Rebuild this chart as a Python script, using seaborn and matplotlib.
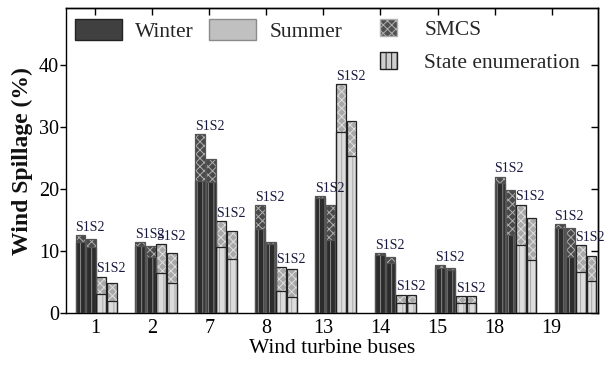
import numpy as np
import pandas as pd
import seaborn as sns
import matplotlib.pyplot as plt
from matplotlib.patches import Patch, Rectangle

# bus numbers on the x axis
buses = ['1', '2', '7', '8', '13', '14', '15', '18', '19']

# bar top (S1+S2) and lower part (S1) for each series, in %
winter_smcs_total = [12.6, 11.5, 28.9, 17.4, 18.9, 9.7, 7.8, 22.0, 14.4]
winter_smcs_s1 = [11.5, 10.8, 21.3, 13.5, 18.6, 9.3, 7.3, 21.0, 13.8]
winter_se_total = [11.9, 10.8, 24.8, 11.5, 17.4, 9.1, 7.3, 19.8, 13.8]
winter_se_s1 = [10.7, 9.1, 21.2, 11.2, 11.8, 8.1, 7.0, 12.6, 9.1]
summer_smcs_total = [5.9, 11.1, 14.9, 7.4, 36.9, 3.0, 2.7, 17.5, 11.0]
summer_smcs_s1 = [3.1, 6.5, 10.7, 3.6, 29.2, 1.6, 1.6, 11.0, 6.6]
summer_se_total = [4.8, 9.7, 13.3, 7.1, 31.0, 3.0, 2.7, 15.4, 9.2]
summer_se_s1 = [1.9, 4.8, 8.8, 2.6, 25.3, 1.6, 1.6, 8.5, 5.2]

series_order = ['Winter SMCS', 'Winter SE', 'Summer SMCS', 'Summer SE']
totals = [winter_smcs_total, winter_se_total, summer_smcs_total, summer_se_total]
lowers = [winter_smcs_s1, winter_se_s1, summer_smcs_s1, summer_se_s1]

rows = []
for name, tot, low in zip(series_order, totals, lowers):
    for b, t, l in zip(buses, tot, low):
        rows.append({'bus': b, 'series': name, 'total': t, 's1': l})
df = pd.DataFrame(rows)

sns.set_theme(style='white')
plt.rcParams['font.family'] = ['Liberation Serif', 'DejaVu Serif']
plt.rcParams['hatch.linewidth'] = 0.7

fig, ax = plt.subplots(figsize=(6.12, 3.65), dpi=100)
fig.subplots_adjust(left=0.108, right=0.977, bottom=0.142, top=0.978)

pal = ['#505050', '#505050', '#c4c4c4', '#c4c4c4']

# whole bars (upper part shows through as crosshatch)
sns.barplot(data=df, x='bus', y='total', hue='series', hue_order=series_order,
            order=buses, width=0.7, gap=0.08, palette=pal, saturation=1,
            errorbar=None, legend=False, ax=ax)
# lower part, vertical stripes
sns.barplot(data=df, x='bus', y='s1', hue='series', hue_order=series_order,
            order=buses, width=0.7, gap=0.08, palette=pal, saturation=1,
            errorbar=None, legend=False, ax=ax)

top_face = ['#4a4a4a', '#4a4a4a', '#a8a8a8', '#a8a8a8']
top_hatch = ['#b0b0b0', '#b0b0b0', '#e0e0e0', '#e0e0e0']
low_face = ['#2c2c2c', '#2c2c2c', '#dcdcdc', '#dcdcdc']
low_hatch = ['#8a8a8a', '#8a8a8a', '#a8a8a8', '#a8a8a8']
outline = ['#555555', '#555555', '#222222', '#222222']

for i, cont in enumerate(ax.containers[:4]):
    for p in cont:
        p.set_facecolor(top_face[i])
        p.set_edgecolor(top_hatch[i])
        p.set_hatch('xxxx')
        p.set_linewidth(0)
for i, cont in enumerate(ax.containers[4:8]):
    for p in cont:
        p.set_facecolor(low_face[i])
        p.set_edgecolor(low_hatch[i])
        p.set_hatch('|||')
        p.set_linewidth(0)
for i, cont in enumerate(list(ax.containers[:4]) + list(ax.containers[4:8])):
    for p in cont:
        ax.add_patch(Rectangle((p.get_x(), p.get_y()), p.get_width(), p.get_height(),
                               fill=False, edgecolor=outline[i % 4], linewidth=0.9, zorder=3))

# S1S2 tags over the first bar of each pair
for k in (0, 2):
    for p in ax.containers[k]:
        ax.text(p.get_x() - 0.01, p.get_height() + 0.2, 'S1S2', fontsize=10,
                ha='left', va='bottom', color='#1a1a40')

ax.set_xlim(-0.5, 8.37)
ax.set_ylim(0, 49.2)
tick_pos = np.arange(len(buses)) * 0.952 - 0.017
ax.set_xticks(tick_pos, buses)
ax.set_yticks([0, 10, 20, 30, 40])
ax.tick_params(axis='x', length=0, pad=4, labelsize=14.5, colors='black')
ax.tick_params(axis='y', direction='out', length=4, width=1, pad=1,
               labelsize=14.5, colors='black', left=True)

secx = ax.secondary_xaxis('top')
secx.set_xticks(tick_pos, [''] * len(buses))
secx.tick_params(direction='in', length=5, width=1, colors='black')
secy = ax.secondary_yaxis('right')
secy.set_yticks([0, 10, 20, 30, 40], [''] * 5)
secy.tick_params(direction='in', length=5, width=1, colors='black')
for s in list(ax.spines.values()) + [secx.spines['top'], secy.spines['right']]:
    s.set_color('black')
    s.set_linewidth(1)

ax.set_xlabel('Wind turbine buses', fontsize=15.5, labelpad=1, color='black')
ax.set_ylabel('Wind Spillage (%)', fontsize=17, fontweight='bold', labelpad=4, color='#111111')

h1 = [Patch(facecolor='#404040', edgecolor='#222222', label='Winter'),
      Patch(facecolor='#c0c0c0', edgecolor='#8a8a8a', label='Summer')]
leg1 = ax.legend(handles=h1, loc='upper left', bbox_to_anchor=(75 / 612, 1 - 19 / 365),
                 bbox_transform=fig.transFigure, ncol=2, frameon=False, fontsize=15.5,
                 handlelength=2.2, handleheight=1.15, handletextpad=0.6,
                 columnspacing=0.7, borderpad=0, borderaxespad=0)
ax.add_artist(leg1)
h2 = [Patch(facecolor='#505050', edgecolor='#b0b0b0', hatch='xxxx', label='SMCS'),
      Patch(facecolor='#cfcfcf', edgecolor='#202020', hatch='|||', label='State enumeration')]
ax.legend(handles=h2, loc='upper left', bbox_to_anchor=(380 / 612, 1 - 19 / 365),
          bbox_transform=fig.transFigure, ncol=1, frameon=False, fontsize=15.5,
          handlelength=0.8, handleheight=0.85, handletextpad=1.25,
          labelspacing=0.55, borderpad=0, borderaxespad=0)

plt.savefig('out.png', dpi=100)
